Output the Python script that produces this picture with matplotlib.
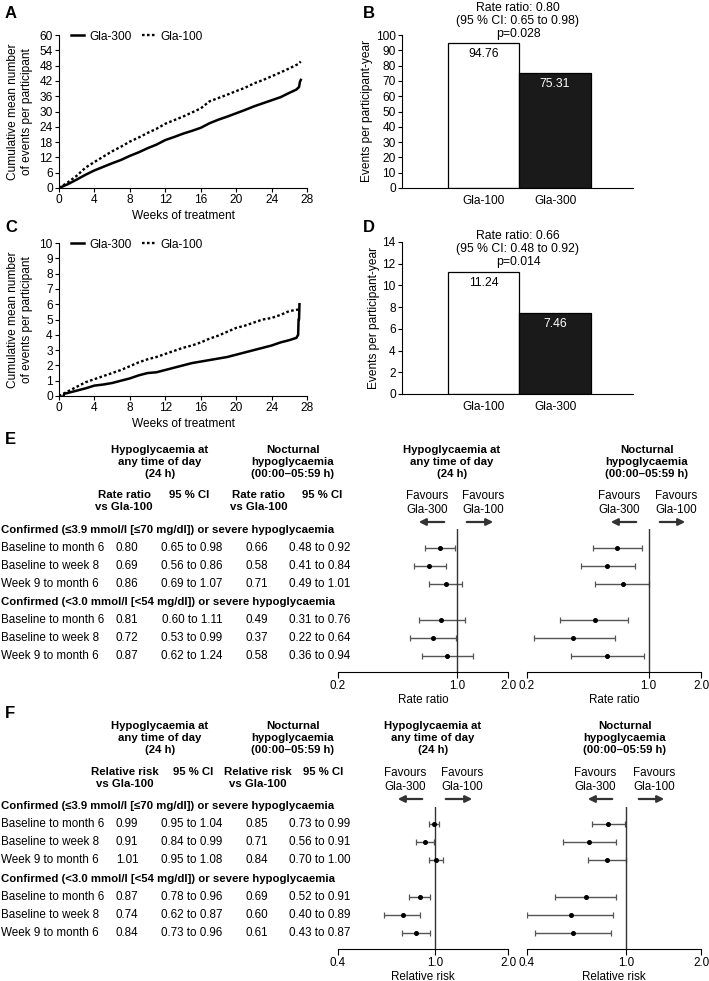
# encoding utf-8

import numpy as np
import matplotlib
matplotlib.use("Agg")
import matplotlib.pyplot as plt
from matplotlib.patches import FancyArrowPatch

plt.rcParams["font.family"] = ["Liberation Sans", "DejaVu Sans"]

# ---- data ----
# panel A: cumulative mean number of events (all hypoglycaemia)
a_week_300 = [0, 1, 2, 3, 4, 5, 6, 7, 8, 9, 10, 11, 12, 13, 14, 15, 16, 17, 18, 19,
              20, 21, 22, 23, 24, 25, 26, 26.8, 27.1, 27.2, 27.3]
a_val_300 = [0, 1.5, 3.3, 5.2, 6.9, 8.3, 9.7, 11.0, 12.6, 14.0, 15.6, 17.0, 18.8, 20.0,
             21.3, 22.4, 23.6, 25.4, 26.8, 28.0, 29.3, 30.6, 32.0, 33.2, 34.4, 35.6,
             37.3, 38.6, 39.6, 41.6, 42.4]
a_week_100 = [0, 1, 2, 3, 4, 5, 6, 7, 8, 9, 10, 11, 12, 13, 14, 15, 16, 17, 18, 19,
              20, 21, 22, 23, 24, 25, 26, 27, 27.3]
a_val_100 = [0, 2.2, 4.8, 8.0, 10.2, 12.3, 14.4, 16.2, 18.2, 19.8, 21.6, 23.2, 25.2,
             26.6, 28.0, 29.6, 31.2, 34.0, 35.3, 36.6, 38.0, 39.3, 41.0, 42.3, 43.8,
             45.3, 46.9, 48.6, 49.6]

# panel C: cumulative mean number of events (nocturnal)
c_week_300 = [0.5, 0.6, 1, 2, 3, 4, 5, 6, 7, 8, 9, 10, 11, 12, 13, 14, 15, 16, 17, 18,
              19, 20, 21, 22, 23, 24, 25, 26, 26.8, 27.0, 27.05, 27.1, 27.15]
c_val_300 = [0, 0.15, 0.2, 0.35, 0.5, 0.68, 0.75, 0.85, 1.0, 1.15, 1.35, 1.5, 1.55,
             1.7, 1.85, 2.0, 2.15, 2.25, 2.35, 2.45, 2.55, 2.7, 2.85, 3.0, 3.15, 3.3,
             3.5, 3.65, 3.8, 4.0, 5.0, 5.0, 6.0]
c_week_100 = [0, 0.5, 1, 2, 3, 4, 5, 6, 7, 8, 9, 10, 11, 12, 13, 14, 15, 16, 17, 18,
              19, 20, 21, 22, 23, 24, 25, 26, 27, 27.2]
c_val_100 = [0, 0.15, 0.3, 0.6, 0.9, 1.1, 1.3, 1.5, 1.7, 1.95, 2.2, 2.4, 2.55, 2.75,
             2.95, 3.15, 3.3, 3.5, 3.75, 3.95, 4.2, 4.45, 4.6, 4.8, 5.0, 5.1, 5.3,
             5.55, 5.65, 5.65]

# panels B and D: events per participant-year
bar_groups = ["Gla-100", "Gla-300"]
b_rates = [94.76, 75.31]
d_rates = [11.24, 7.46]
b_note = "Rate ratio: 0.80\n(95 % CI: 0.65 to 0.98)\np=0.028"
d_note = "Rate ratio: 0.66\n(95 % CI: 0.48 to 0.92)\np=0.014"

# panels E and F: table rows
row_names = ["Baseline to month 6", "Baseline to week 8", "Week 9 to month 6"]
sect_names = ["Confirmed (\u22643.9 mmol/l [\u226470 mg/dl]) or severe hypoglycaemia",
              "Confirmed (<3.0 mmol/l [<54 mg/dl]) or severe hypoglycaemia"]

e_24_est = [0.80, 0.69, 0.86, 0.81, 0.72, 0.87]
e_24_lo = [0.65, 0.56, 0.69, 0.60, 0.53, 0.62]
e_24_hi = [0.98, 0.86, 1.07, 1.11, 0.99, 1.24]
e_n_est = [0.66, 0.58, 0.71, 0.49, 0.37, 0.58]
e_n_lo = [0.48, 0.41, 0.49, 0.31, 0.22, 0.36]
e_n_hi = [0.92, 0.84, 1.01, 0.76, 0.64, 0.94]

f_24_est = [0.99, 0.91, 1.01, 0.87, 0.74, 0.84]
f_24_lo = [0.95, 0.84, 0.95, 0.78, 0.62, 0.73]
f_24_hi = [1.04, 0.99, 1.08, 0.96, 0.87, 0.96]
f_n_est = [0.85, 0.71, 0.84, 0.69, 0.60, 0.61]
f_n_lo = [0.73, 0.56, 0.70, 0.52, 0.40, 0.43]
f_n_hi = [0.99, 0.91, 1.00, 0.91, 0.89, 0.87]

W, H = 709, 981
fig = plt.figure(figsize=(W / 100, H / 100), dpi=100)

FS = 8.2      # axis text
TS = 8.4      # table text
BS = 8.2      # bold table text
GREY = "#555555"


def axes_px(left, top, right, bottom):
    return fig.add_axes([left / W, 1 - bottom / H, (right - left) / W, (bottom - top) / H])


def txt(x, y, s, **kw):
    kw.setdefault("fontsize", FS)
    kw.setdefault("va", "center")
    fig.text(x / W, 1 - y / H, s, **kw)


def arrow(x0, x1, y):
    fig.add_artist(FancyArrowPatch((x0 / W, 1 - y / H), (x1 / W, 1 - y / H),
                                   transform=fig.transFigure, arrowstyle="-|>",
                                   mutation_scale=10, lw=1.6, color="#333333"))


def style_axes(ax):
    for s in ["top", "right"]:
        ax.spines[s].set_visible(False)
    ax.spines["left"].set_linewidth(0.8)
    ax.spines["bottom"].set_linewidth(0.8)
    ax.tick_params(labelsize=FS + 0.4, length=3, width=0.8, pad=1.5)


# cumulative curves
def cumulative(box, w300, v300, w100, v100, ymax, ystep):
    ax = axes_px(*box)
    ax.plot(w300, v300, color="black", lw=1.8, label="Gla-300")
    ax.plot(w100, v100, color="black", lw=1.7, ls=(0, (1.1, 1.0)), label="Gla-100")
    ax.set_xlim(0, 28)
    ax.set_ylim(0, ymax)
    ax.set_xticks(np.arange(0, 29, 4))
    ax.set_yticks(np.arange(0, ymax + 0.1, ystep))
    style_axes(ax)
    ax.set_xlabel("Weeks of treatment", fontsize=FS + 0.4, labelpad=3)
    ax.legend(loc="upper left", bbox_to_anchor=(0.03, 1.06), ncol=2, frameon=False,
              fontsize=FS + 0.4, handlelength=1.1, handletextpad=0.4, columnspacing=0.9,
              borderaxespad=0)
    return ax


# bar charts
def bars(box, rates, note, ymax, ystep, note_y):
    ax = axes_px(*box)
    pos = np.arange(len(rates))
    ax.bar(pos, rates, width=1.0, color=["white", "#1a1a1a"], edgecolor="black", lw=0.9)
    for p, r, c in zip(pos, rates, ["black", "white"]):
        ax.annotate("%.2f" % r, (p, r), xytext=(0, -8), textcoords="offset points",
                    ha="center", va="center", color=c, fontsize=FS + 0.6)
    ax.set_xlim(-1.14, 2.09)
    ax.set_ylim(0, ymax)
    ax.set_yticks(np.arange(0, ymax + 0.1, ystep))
    ax.set_xticks(pos)
    ax.set_xticklabels(bar_groups)
    style_axes(ax)
    ax.tick_params(axis="x", length=0, pad=5)
    ax.set_ylabel("Events per participant-year", fontsize=FS + 0.4, labelpad=2)
    txt(518, note_y, note, ha="center", linespacing=1.12, fontsize=FS + 0.6)
    return ax


def forest(box, est, lo, hi, xmin, xlabel, y0, step, top, bottom):
    ax = axes_px(*box)
    ypos = np.array([0, 1, 2, 4, 5, 6])
    est = np.array(est)
    err = [est - np.array(lo), np.array(hi) - est]
    ax.errorbar(est, ypos, xerr=err, fmt="o", ms=2.6, color="black", ecolor=GREY,
                elinewidth=1.0, capsize=2.2, capthick=0.9)
    ax.axvline(1.0, color="#333333", lw=1.0)
    ax.set_xscale("log")
    ax.set_xlim(xmin, 2.0)
    ax.set_ylim((bottom - y0) / step, (top - y0) / step)
    ax.set_xticks([xmin, 1.0, 2.0])
    ax.set_xticklabels(["%.1f" % xmin, "1.0", "2.0"])
    ax.minorticks_off()
    ax.set_yticks([])
    for s in ["top", "right", "left"]:
        ax.spines[s].set_visible(False)
    ax.spines["bottom"].set_linewidth(0.8)
    ax.tick_params(labelsize=TS, length=4, width=0.8, pad=2)
    ax.set_xlabel(xlabel, fontsize=TS, labelpad=1)
    return ax


def table(y0, step, cols, head_y, sub_y, first, v24, l24, h24, vn, ln, hn):
    # group headers
    txt(160, head_y, "Hypoglycaemia at\nany time of day\n(24 h)", ha="center",
        fontweight="bold", linespacing=1.25, fontsize=BS)
    txt(293, head_y, "Nocturnal\nhypoglycaemia\n(00:00\u201305:59 h)", ha="center",
        fontweight="bold", linespacing=1.25, fontsize=BS)
    for cx, s in zip(cols, [first + "\nvs Gla-100", "95 % CI", first + "\nvs Gla-100", "95 % CI"]):
        txt(cx, sub_y, s, ha="center", va="top", fontweight="bold", linespacing=1.25,
            fontsize=BS)
    k = 0
    for g in range(2):
        txt(1, y0 + step * (4 * g - 1), sect_names[g], ha="left", fontweight="bold",
            fontsize=BS)
        for r in range(3):
            y = y0 + step * (4 * g + r)
            txt(1, y, row_names[r], ha="left", fontsize=TS)
            txt(127, y, "%.2f" % v24[k], ha="center", fontsize=TS)
            txt(192, y, "%.2f to %.2f" % (l24[k], h24[k]), ha="center", fontsize=TS)
            txt(257, y, "%.2f" % vn[k], ha="center", fontsize=TS)
            txt(320, y, "%.2f to %.2f" % (ln[k], hn[k]), ha="center", fontsize=TS)
            k += 1


def forest_heads(x24, xn, head_y, fav_y, arrow_y, fav):
    txt(x24, head_y, "Hypoglycaemia at\nany time of day\n(24 h)", ha="center",
        fontweight="bold", linespacing=1.25, fontsize=BS)
    txt(xn, head_y, "Nocturnal\nhypoglycaemia\n(00:00\u201305:59 h)", ha="center",
        fontweight="bold", linespacing=1.25, fontsize=BS)
    for a, b, c, d in fav:
        txt(a, fav_y, "Favours\nGla-300", ha="center", linespacing=1.2, fontsize=TS)
        txt(b, fav_y, "Favours\nGla-100", ha="center", linespacing=1.2, fontsize=TS)
        arrow(c[0], c[1], arrow_y)
        arrow(d[0], d[1], arrow_y)


# panel letters
for x, y, s in [(5, 14, "A"), (363, 14, "B"), (5, 227, "C"), (363, 227, "D"),
                (5, 440, "E"), (5, 713, "F")]:
    txt(x, y, s, fontweight="bold", fontsize=12)

# A and C
cumulative((59, 35, 307, 188), a_week_300, a_val_300, a_week_100, a_val_100, 60, 6)
cumulative((59, 243, 307, 396), c_week_300, c_val_300, c_week_100, c_val_100, 10, 1)
for yc in [112, 320]:
    txt(20, yc, "Cumulative mean number\nof events per participant", ha="center",
        rotation=90, linespacing=1.25, fontsize=FS + 0.4)

# B and D
bars((402, 35, 633, 188), b_rates, b_note, 100, 10, 21)
bars((402, 242, 633, 394), d_rates, d_note, 14, 2, 249)

# E
table(548, 18, [124, 189, 259, 322], 462, 490, "Rate ratio",
      e_24_est, e_24_lo, e_24_hi, e_n_est, e_n_lo, e_n_hi)
forest((338, 529, 508, 672), e_24_est, e_24_lo, e_24_hi, 0.2, "Rate ratio", 548, 18, 529, 672)
forest((527, 529, 701, 672), e_n_est, e_n_lo, e_n_hi, 0.2, "Rate ratio", 548, 18, 529, 672)
forest_heads(452, 647, 462, 503, 522,
             [(427, 483, (447, 416), (464, 496)), (619, 676, (639, 608), (657, 688))])

# F
table(824, 18.2, [125, 193, 258, 323], 738, 767, "Relative risk",
      f_24_est, f_24_lo, f_24_hi, f_n_est, f_n_lo, f_n_hi)
forest((338, 807, 508, 949), f_24_est, f_24_lo, f_24_hi, 0.4, "Relative risk", 824, 18.2, 807, 949)
forest((527, 807, 701, 949), f_n_est, f_n_lo, f_n_hi, 0.4, "Relative risk", 824, 18.2, 807, 949)
forest_heads(433, 625, 738, 780, 799,
             [(405, 462, (425, 395), (443, 475)), (595, 654, (615, 585), (636, 667))])

fig.savefig("out.png", dpi=100)
